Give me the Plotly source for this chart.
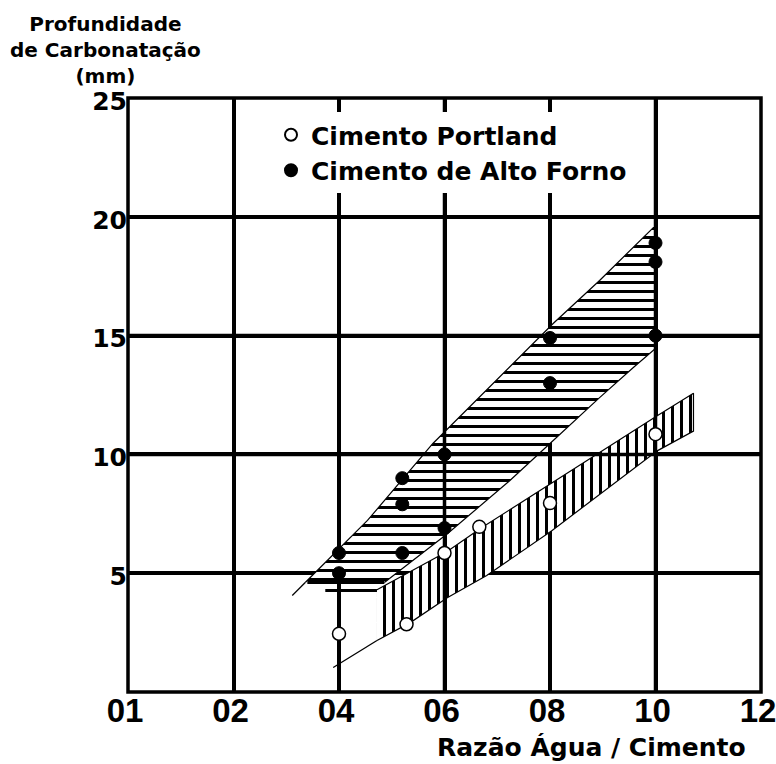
import plotly.graph_objects as go

# ---- axis labels / ticks ----
x_tick_vals = [0, 1, 2, 3, 4, 5, 6]
x_tick_text = ["01", "02", "04", "06", "08", "10", "12"]
y_tick_vals = [5, 10, 15, 20, 25]
y_tick_text = ["5", "10", "15", "20", "25"]
y_title_lines = ["Profundidade", "de Carbonatação", "(mm)"]
x_title = "Razão Água / Cimento"

# ---- measured points ----
portland_x = [2.0, 2.64, 3.0, 3.33, 4.0, 5.0]
portland_y = [2.45, 2.85, 5.85, 6.95, 7.95, 10.85]

alto_forno_x = [2.0, 2.0, 2.6, 2.6, 2.6, 3.0, 3.0, 4.0, 4.0, 5.0, 5.0, 5.0]
alto_forno_y = [5.85, 5.0, 9.0, 7.9, 5.85, 10.0, 6.9, 14.9, 13.0, 18.9, 18.1, 15.0]

# ---- scatter bands (edges, left to right) ----
af_upper_x = [1.68, 2.27, 2.89, 4.03, 4.47, 4.98, 5.0]
af_upper_y = [4.61, 7.22, 10.46, 15.51, 17.32, 19.55, 19.55]
af_lower_x = [2.43, 3.03, 3.62, 4.0, 4.47, 4.79, 5.0]
af_lower_y = [4.61, 6.67, 8.9, 10.46, 12.39, 13.66, 14.46]
af_tail_x = [1.557, 1.68]
af_tail_y = [4.06, 4.61]
af_base_x = [1.70, 2.43]
af_base_y = [4.61, 4.61]

pt_upper_x = [2.36, 3.025, 3.34, 4.02, 4.47, 5.02, 5.36]
pt_upper_y = [4.3, 5.91, 6.88, 8.82, 10.08, 11.64, 12.57]
pt_lower_x = [2.36, 2.675, 3.03, 3.40, 4.02, 4.41, 5.02, 5.36]
pt_lower_y = [2.17, 2.92, 3.98, 4.9, 6.80, 8.1, 10.16, 10.98]
pt_tail_x = [1.945, 2.36]
pt_tail_y = [1.03, 2.17]
pt_cap_x = [1.87, 2.36]
pt_cap_y = [4.27, 4.27]

# gridlines that stay visible across the hatched bands
grid_over_x = [3, 5]
grid_over_y = [10, 15]

X_RANGE = [0, 6]
Y_RANGE = [0, 25]

W, H = 776, 764
L, R, T, B = 128, 15, 98, 72
PW, PH = W - L - R, H - T - B


def paper_x(px):
    return (px - L) / PW


def paper_y(py):
    return (H - B - py) / PH


BOLD = "DejaVu Sans"
LINE = "black"
GRID_W = 3.5

fig = go.Figure()

# Alto Forno band: horizontal hatching
fig.add_trace(go.Scatter(
    x=af_upper_x + af_lower_x[::-1],
    y=af_upper_y + af_lower_y[::-1],
    fill="toself", mode="lines",
    line=dict(color=LINE, width=1.2),
    fillcolor="white",
    fillpattern=dict(shape="-", bgcolor="white", fgcolor="black", fgopacity=1,
                     size=9, solidity=1 / 3),
    showlegend=False, hoverinfo="skip",
))

# Portland band: vertical hatching
fig.add_trace(go.Scatter(
    x=pt_upper_x + pt_lower_x[::-1],
    y=pt_upper_y + pt_lower_y[::-1],
    fill="toself", mode="lines",
    line=dict(color=LINE, width=1.2),
    fillcolor="white",
    fillpattern=dict(shape="|", bgcolor="white", fgcolor="black", fgopacity=1,
                     size=9, solidity=1 / 3),
    showlegend=False, hoverinfo="skip",
))

# band edge extensions
for tx, ty, w in [(af_tail_x, af_tail_y, 1.3), (pt_tail_x, pt_tail_y, 1.3),
                  (pt_cap_x, pt_cap_y, 3), (af_base_x, af_base_y, 3)]:
    fig.add_trace(go.Scatter(x=tx, y=ty, mode="lines", line=dict(color=LINE, width=w),
                             showlegend=False, hoverinfo="skip"))

# gridlines drawn over the bands
for gx in grid_over_x:
    fig.add_trace(go.Scatter(x=[gx, gx], y=Y_RANGE, mode="lines",
                             line=dict(color=LINE, width=GRID_W),
                             showlegend=False, hoverinfo="skip"))
for gy in grid_over_y:
    fig.add_trace(go.Scatter(x=X_RANGE, y=[gy, gy], mode="lines",
                             line=dict(color=LINE, width=GRID_W),
                             showlegend=False, hoverinfo="skip"))

fig.add_trace(go.Scatter(
    x=portland_x, y=portland_y, mode="markers", name="Cimento Portland",
    marker=dict(symbol="circle", size=13, color="white", line=dict(color="black", width=1.5)),
))
fig.add_trace(go.Scatter(
    x=alto_forno_x, y=alto_forno_y, mode="markers", name="Cimento de Alto Forno",
    marker=dict(symbol="circle", size=13, color="black", line=dict(color="black", width=1)),
))

fig.update_layout(
    width=W, height=H,
    margin=dict(l=L, r=R, t=T, b=B, autoexpand=False),
    paper_bgcolor="white", plot_bgcolor="white",
    showlegend=True,
    legend=dict(
        x=paper_x(271), y=paper_y(112), xanchor="left", yanchor="top",
        bgcolor="white", borderwidth=0,
        font=dict(family=BOLD, size=25, color="black", weight="bold"),
        itemsizing="constant", itemwidth=30,
    ),
    xaxis=dict(
        range=X_RANGE, tickmode="array", tickvals=x_tick_vals, ticktext=x_tick_text,
        showgrid=True, gridcolor=LINE, gridwidth=GRID_W, zeroline=False,
        showline=False, ticks="", ticklabeloverflow="allow", ticklabelshift=-3,
        ticklabelstandoff=-4, automargin=False,
        tickfont=dict(family="Liberation Sans Narrow, Liberation Sans", size=33,
                      color="black", weight="bold"),
    ),
    yaxis=dict(
        range=Y_RANGE, tickmode="array", tickvals=y_tick_vals, ticktext=y_tick_text,
        showgrid=True, gridcolor=LINE, gridwidth=GRID_W, zeroline=False,
        showline=False, ticks="", ticklabelshift=3, automargin=False,
        tickfont=dict(family=BOLD, size=25, color="black", weight="bold"),
    ),
    shapes=[dict(type="rect", xref="paper", yref="paper", x0=0, x1=1, y0=0, y1=1,
                 line=dict(color=LINE, width=GRID_W), layer="above")],
    annotations=[
        dict(text="<br>".join(y_title_lines), x=paper_x(105), y=paper_y(10),
             xref="paper", yref="paper", showarrow=False,
             xanchor="center", yanchor="top", align="center",
             font=dict(family=BOLD, size=20, color="black", weight="bold")),
        dict(text=x_title, x=paper_x(591), y=paper_y(747), xref="paper", yref="paper",
             showarrow=False, xanchor="center", yanchor="middle",
             font=dict(family=BOLD, size=25, color="black", weight="bold")),
    ],
)

fig.write_html("out.html")
